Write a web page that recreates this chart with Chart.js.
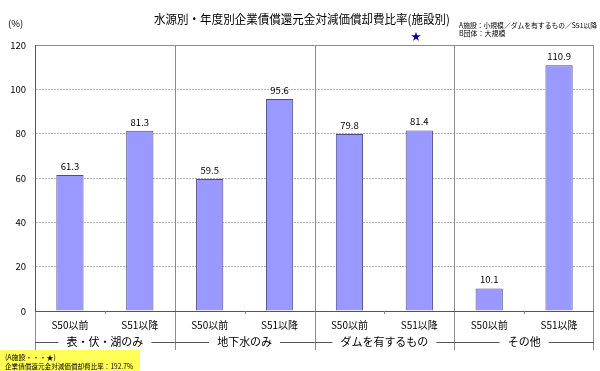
<!DOCTYPE html>
<html>
<head>
<meta charset="utf-8">
<script src="https://cdn.jsdelivr.net/npm/chart.js@4"></script>
<style>
  html, body { margin: 0; padding: 0; background: #fff; }
  #wrap { width: 600px; height: 371px; position: relative; }
</style>
</head>
<body>
<div id="wrap"><canvas id="chart"></canvas></div>
<script>
// data
const periods = ['S50以前', 'S51以降', 'S50以前', 'S51以降', 'S50以前', 'S51以降', 'S50以前', 'S51以降'];
const groups = ['表・伏・湖のみ', '地下水のみ', 'ダムを有するもの', 'その他'];
const ratios = [61.3, 81.3, 59.5, 95.6, 79.8, 81.4, 10.1, 110.9];
const yTicks = [0, 20, 40, 60, 80, 100, 120];

const titleText = '水源別・年度別企業債償還元金対減価償却費比率(施設別)';
const noteLines = ['A施設：小規模／ダムを有するもの／S51以降', 'B団体：大規模'];
const boxLines = ['(A施設・・・★)', '企業債償還元金対減価償却費比率：192.7%'];

const FONT = '"Noto Sans CJK JP", "Noto Sans", sans-serif';

// extra drawing: frame, group separators, two-level axis, labels, notes
const decorations = {
  id: 'decorations',
  afterDatasetsDraw(chart) {
    const { ctx, chartArea: a, scales: { x } } = chart;
    const bottomLine = a.bottom + 39;
    ctx.save();

    // plot frame
    ctx.strokeStyle = '#8c8c8c';
    ctx.lineWidth = 1;
    ctx.beginPath();
    ctx.moveTo(a.left + 0.5, a.top + 0.5);
    ctx.lineTo(a.right - 0.5, a.top + 0.5);
    ctx.stroke();

    // group separators and outer edges (run down through the label rows)
    const seps = [x.left, x.getPixelForValue(1.5), x.getPixelForValue(3.5), x.getPixelForValue(5.5), x.right];
    seps.forEach((px, i) => {
      const xx = Math.round(px) + (i === seps.length - 1 ? -0.5 : 0.5);
      ctx.beginPath();
      ctx.moveTo(xx, a.top);
      ctx.lineTo(xx, bottomLine);
      ctx.stroke();
    });

    // axis lines
    ctx.strokeStyle = '#555';
    ctx.beginPath();
    ctx.moveTo(a.left, Math.round(a.bottom) + 0.5);
    ctx.lineTo(a.right, Math.round(a.bottom) + 0.5);
    ctx.stroke();
    ctx.beginPath();
    ctx.moveTo(Math.round(a.left) + 0.5, a.top);
    ctx.lineTo(Math.round(a.left) + 0.5, a.bottom);
    ctx.stroke();

    // small ticks between periods inside each group
    ctx.strokeStyle = '#888';
    [0.5, 2.5, 4.5, 6.5].forEach(v => {
      const xx = Math.round(x.getPixelForValue(v)) + 0.5;
      ctx.beginPath();
      ctx.moveTo(xx, a.bottom);
      ctx.lineTo(xx, a.bottom + 3);
      ctx.stroke();
    });

    // group labels with side rules
    const gy = a.bottom + 31;
    ctx.font = '11px ' + FONT;
    ctx.fillStyle = '#000';
    ctx.textAlign = 'center';
    ctx.textBaseline = 'middle';
    groups.forEach((g, i) => {
      const l = seps[i], r = seps[i + 1];
      const c = (l + r) / 2;
      const w = ctx.measureText(g).width;
      ctx.fillText(g, c, gy);
      ctx.strokeStyle = '#555';
      ctx.beginPath();
      ctx.moveTo(l, Math.round(gy) + 0.5);
      ctx.lineTo(c - w / 2 - 8, Math.round(gy) + 0.5);
      ctx.moveTo(c + w / 2 + 8, Math.round(gy) + 0.5);
      ctx.lineTo(r, Math.round(gy) + 0.5);
      ctx.stroke();
    });

    // value labels above bars
    ctx.font = '9.5px ' + FONT;
    ctx.textBaseline = 'bottom';
    const meta = chart.getDatasetMeta(0);
    meta.data.forEach((bar, i) => {
      ctx.fillText(ratios[i].toFixed(1), bar.x, bar.y - 4);
    });

    // title
    ctx.font = '12.5px ' + FONT;
    ctx.textBaseline = 'middle';
    ctx.fillText(titleText, 302, 19, 296);

    // unit
    ctx.font = '9.5px ' + FONT;
    ctx.textAlign = 'left';
    ctx.fillText('(%)', 8, 23);

    // note at top right
    ctx.font = '7px ' + FONT;
    ctx.fillText(noteLines[0], 459, 25, 138);
    ctx.fillText(noteLines[1], 459, 33);

    // star marker for A施設
    ctx.fillStyle = '#000099';
    ctx.font = '10px ' + FONT;
    ctx.textAlign = 'center';
    ctx.fillText('★', 416, 36);

    // yellow box bottom left
    ctx.fillStyle = '#ffff55';
    ctx.fillRect(0, 350, 140, 21);
    ctx.fillStyle = '#000';
    ctx.textAlign = 'left';
    ctx.font = '7px ' + FONT;
    ctx.fillText(boxLines[0], 5, 357);
    ctx.fillText(boxLines[1], 5, 366, 128);

    ctx.restore();
  }
};

new Chart(document.getElementById('chart'), {
  type: 'bar',
  data: {
    labels: periods,
    datasets: [{
      data: ratios,
      backgroundColor: '#9999ff',
      borderColor: '#4a4a8c',
      borderWidth: 1,
      borderSkipped: 'bottom',
      barPercentage: 0.39,
      categoryPercentage: 1
    }]
  },
  options: {
    responsive: true,
    maintainAspectRatio: false,
    animation: false,
    layout: { padding: { top: 45, right: 6, left: 0, bottom: 0 } },
    plugins: {
      legend: { display: false },
      tooltip: { enabled: false }
    },
    scales: {
      x: {
        grid: { display: false, drawTicks: false },
        border: { display: false },
        ticks: { color: '#000', font: { family: FONT, size: 10 }, padding: 8, maxRotation: 0, autoSkip: false },
        afterFit: s => { s.height = 60; }
      },
      y: {
        min: 0,
        max: 120,
        afterBuildTicks: s => { s.ticks = yTicks.map(v => ({ value: v })); },
        grid: { color: '#b4b4b4', drawTicks: false },
        border: { display: true, color: '#555', dash: [2, 1] },
        ticks: { color: '#000', font: { family: FONT, size: 9.5 }, padding: 9 },
        afterFit: s => { s.width = 35; }
      }
    }
  },
  plugins: [decorations]
});
</script>
</body>
</html>
